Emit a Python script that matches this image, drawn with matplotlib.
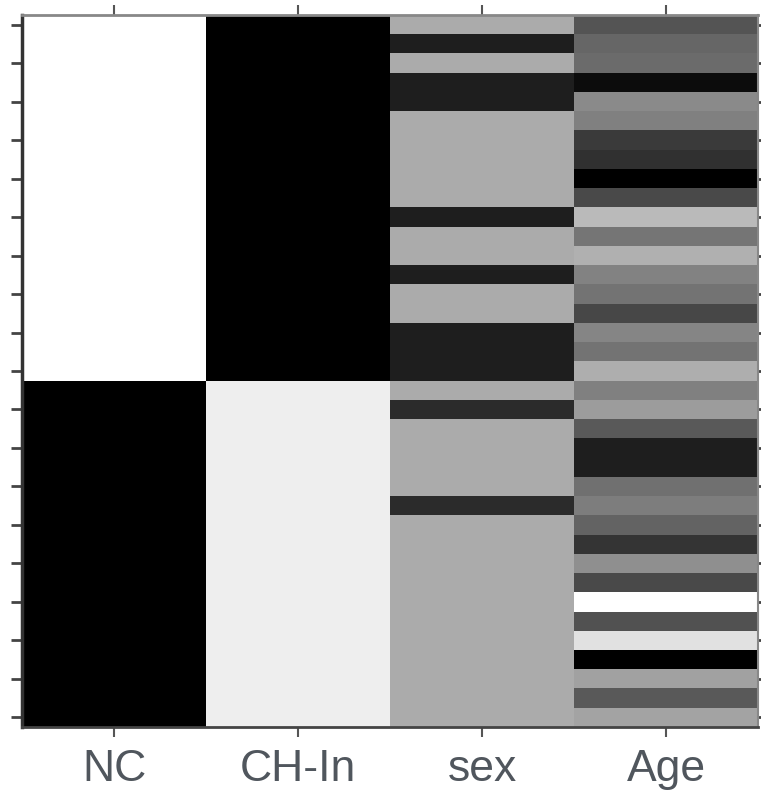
import matplotlib.pyplot as plt
import numpy as np

columns = ["NC", "CH-In", "sex", "Age"]

# grey level per subject (row), 0 = black, 1 = white
nc = [1, 1, 1, 1, 1, 1, 1, 1, 1, 1, 1, 1, 1, 1, 1, 1, 1, 1, 1,
      0, 0, 0, 0, 0, 0, 0, 0, 0, 0, 0, 0, 0, 0, 0, 0, 0, 0]
ch_in = [0, 0, 0, 0, 0, 0, 0, 0, 0, 0, 0, 0, 0, 0, 0, 0, 0, 0, 0,
         0.93, 0.93, 0.93, 0.93, 0.93, 0.93, 0.93, 0.93, 0.93, 0.93,
         0.93, 0.93, 0.93, 0.93, 0.93, 0.93, 0.93, 0.93]
sex = [0.67, 0.12, 0.67, 0.12, 0.12, 0.67, 0.67, 0.67, 0.67, 0.67,
       0.12, 0.67, 0.67, 0.12, 0.67, 0.67, 0.12, 0.12, 0.12,
       0.67, 0.17, 0.67, 0.67, 0.67, 0.67, 0.17, 0.67, 0.67, 0.67,
       0.67, 0.67, 0.67, 0.67, 0.67, 0.67, 0.67, 0.67]
age = [0.33, 0.40, 0.42, 0.05, 0.54, 0.50, 0.23, 0.19, 0.00, 0.29,
       0.73, 0.46, 0.69, 0.51, 0.45, 0.28, 0.52, 0.45, 0.68,
       0.50, 0.61, 0.35, 0.12, 0.12, 0.44, 0.49, 0.39, 0.21, 0.56,
       0.29, 1.00, 0.32, 0.88, 0.00, 0.63, 0.35, 0.64]

data = np.column_stack([nc, ch_in, sex, age])
n_rows = data.shape[0]

fig = plt.figure(figsize=(7.61, 7.95), dpi=100)
ax = fig.add_axes([22/761, 68/795, 736/761, 712/795])
ax.imshow(data, cmap="gray", vmin=0, vmax=1, aspect="auto",
          interpolation="nearest")

ax.set_xticks(range(len(columns)))
ax.set_xticklabels(columns, fontsize=32, color="#50565d",
                   family=["Liberation Sans", "DejaVu Sans"])
ax.set_yticks(range(0, n_rows, 2))
ax.set_yticklabels([])
ax.tick_params(axis="x", direction="out", length=7, width=1.5,
               color="#555555", pad=9, top=True)
ax.tick_params(axis="y", direction="out", length=8, width=2,
               color="#444444")
ax.tick_params(axis="y", which="major", right=True)
for t in ax.yaxis.get_ticklines()[1::2]:
    t.set_markersize(3)

ax.spines["left"].set_linewidth(2.5)
ax.spines["left"].set_color("#333333")
ax.spines["bottom"].set_linewidth(2)
ax.spines["bottom"].set_color("#444444")
ax.spines["top"].set_linewidth(2)
ax.spines["top"].set_color("#888888")
ax.spines["right"].set_linewidth(1.5)
ax.spines["right"].set_color("#888888")

plt.savefig("out.png", dpi=100)
